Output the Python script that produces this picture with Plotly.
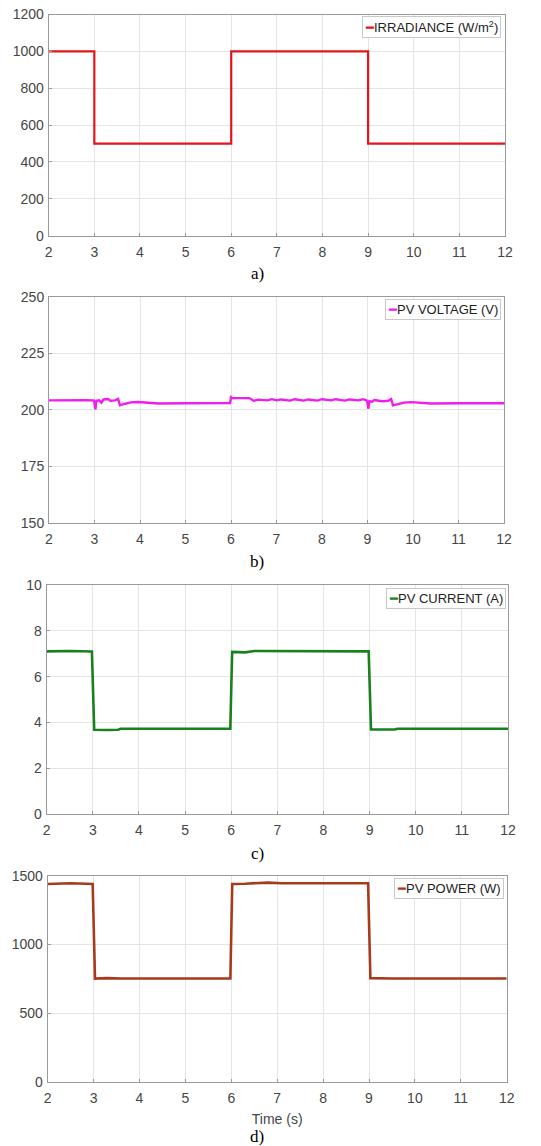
import plotly.graph_objects as go

# ---------------- data ----------------
t_irr = [2, 3, 6, 9, 12]
irradiance = [1000, 500, 1000, 500, 500]

t_v = [2.0, 2.5, 2.8, 2.98, 3.0, 3.02, 3.04, 3.1, 3.15, 3.2, 3.3, 3.35, 3.45, 3.52, 3.56,
       3.65, 3.8, 3.95, 4.1, 4.4, 5.0, 5.5, 5.98, 6.0, 6.02, 6.2, 6.4, 6.5, 6.6,
       6.8, 6.9, 7.0, 7.1, 7.3, 7.4, 7.6, 7.7, 7.9, 8.0, 8.2, 8.3, 8.5, 8.6, 8.8, 8.9,
       8.98, 9.0, 9.02, 9.04, 9.1, 9.15, 9.25, 9.35, 9.45, 9.52, 9.56,
       9.7, 9.8, 9.95, 10.1, 10.4, 11.0, 11.5, 12.0]
voltage = [204.2, 204.4, 204.3, 204.2, 203.0, 200.2, 204.0, 204.2, 203.2, 204.6, 204.8, 204.0,
           204.2, 204.8, 202.0, 202.6, 203.3, 203.5, 203.2, 202.8, 202.9, 202.9, 203.0, 205.6,
           205.3, 205.2, 205.2, 204.0, 204.5,
           204.2, 204.7, 204.2, 204.6, 204.1, 204.7, 204.1, 204.6, 204.1, 204.7, 204.2, 204.7,
           204.1, 204.6, 204.2, 204.7,
           204.2, 203.0, 200.5, 203.8, 203.6, 204.3, 204.0, 203.8, 204.0, 204.8, 202.0,
           202.6, 203.2, 203.4, 203.2, 202.8, 202.9, 202.9, 202.9]

t_i = [2.0, 2.5, 2.98, 3.03, 3.3, 3.55, 3.6, 5.98, 6.02, 6.3, 6.5, 7.0, 7.5, 8.5, 8.98,
       9.03, 9.3, 9.55, 9.6, 12.0]
current = [7.1, 7.12, 7.1, 3.68, 3.67, 3.68, 3.72, 3.72, 7.08, 7.06, 7.12, 7.12, 7.1, 7.1, 7.1,
           3.69, 3.68, 3.69, 3.72, 3.72]

t_p = [2.0, 2.5, 2.98, 3.03, 3.3, 3.6, 5.98, 6.02, 6.3, 6.5, 6.8, 7.1, 8.5, 8.98,
       9.03, 9.5, 12.0]
power = [1440, 1445, 1440, 752, 755, 752, 752, 1440, 1442, 1445, 1450, 1445, 1445, 1445,
         755, 752, 752]

x_ticks = [2, 3, 4, 5, 6, 7, 8, 9, 10, 11, 12]

series_names = ["IRRADIANCE (W/m<sup>2</sup>)", "PV VOLTAGE (V)", "PV CURRENT (A)", "PV POWER (W)"]
captions = ["a)", "b)", "c)", "d)"]

# ---------------- layout helpers ----------------
PAGE_W, PAGE_H = 541, 1146
OFF = 8  # default page body margin
W, H = PAGE_W - OFF, PAGE_H - OFF


def px_x(p):
    return (p - OFF) / W


def px_y(p):
    return 1 - (p - OFF) / H


panels = [
    dict(x=(48.7, 505), y=(14.5, 235.7), yr=[0, 1200], dt=200),
    dict(x=(49, 504), y=(296.7, 523), yr=[150, 250], dt=25),
    dict(x=(46.7, 508), y=(585, 814), yr=[0, 10], dt=2),
    dict(x=(47.7, 506.7), y=(875.7, 1082), yr=[0, 1500], dt=500),
]

series = [
    (t_irr, irradiance, "#e3141b", 2.2, "hv"),
    (t_v, voltage, "#f01cf0", 2.4, "linear"),
    (t_i, current, "#18801c", 2.6, "linear"),
    (t_p, power, "#a83a1c", 2.6, "linear"),
]

legend_pos = [(501, 16), (501, 299), (505.5, 588), (503.5, 878)]
caption_y = [273, 562, 853, 1136]
caption_x = [257, 257, 257, 257]

fig = go.Figure()
font_fam = "Arial, Liberation Sans, Helvetica, sans-serif"

for k, (p, s) in enumerate(zip(panels, series)):
    n = "" if k == 0 else str(k + 1)
    tx, ty, col, lw, shape = s
    fig.add_trace(go.Scatter(
        x=tx, y=ty, mode="lines", name=series_names[k],
        line=dict(color=col, width=lw, shape=shape),
        xaxis="x" + n, yaxis="y" + n, showlegend=False,
    ))
    axcommon = dict(
        showline=True, mirror=True, linecolor="#9a9a9a", linewidth=1,
        showgrid=True, gridcolor="#e4e4e4", gridwidth=1,
        ticks="inside", ticklen=3, tickcolor="#9a9a9a",
        tickfont=dict(family=font_fam, size=14, color="#454545"),
        zeroline=False, automargin=False, ticklabeloverflow="allow",
    )
    fig.layout["xaxis" + n] = dict(
        axcommon, domain=[px_x(p["x"][0]), px_x(p["x"][1])],
        range=[2, 12], tickmode="array", tickvals=x_ticks,
        anchor="y" + n, ticklabelstandoff=3,
    )
    fig.layout["yaxis" + n] = dict(
        axcommon, domain=[px_y(p["y"][1]), px_y(p["y"][0])],
        range=p["yr"], dtick=p["dt"], tick0=0,
        anchor="x" + n, ticklabelstandoff=1,
    )
    # legend box (text-based, tied to the series name and colour)
    lx, ly = legend_pos[k]
    fig.add_annotation(
        text=f'<span style="color:{col}">━</span>{series_names[k]}',
        x=px_x(lx), y=px_y(ly), xref="paper", yref="paper",
        xanchor="right", yanchor="top", showarrow=False,
        bgcolor="white", bordercolor="#c8c8c8", borderwidth=1, borderpad=2,
        font=dict(family=font_fam, size=13, color="#222222"),
    )
    fig.add_annotation(
        text=captions[k], x=px_x(caption_x[k]), y=px_y(caption_y[k]), xref="paper", yref="paper",
        showarrow=False, xanchor="center", yanchor="middle",
        font=dict(family="Times New Roman, Liberation Serif, serif", size=17, color="black"),
    )

fig.layout["xaxis4"]["title"] = dict(
    text="Time (s)", standoff=9,
    font=dict(family=font_fam, size=14, color="#454545"),
)

fig.update_layout(
    width=W, height=H,
    margin=dict(l=0, r=0, t=0, b=0),
    paper_bgcolor="white", plot_bgcolor="white",
    showlegend=False,
)

fig.write_html("out.html")
